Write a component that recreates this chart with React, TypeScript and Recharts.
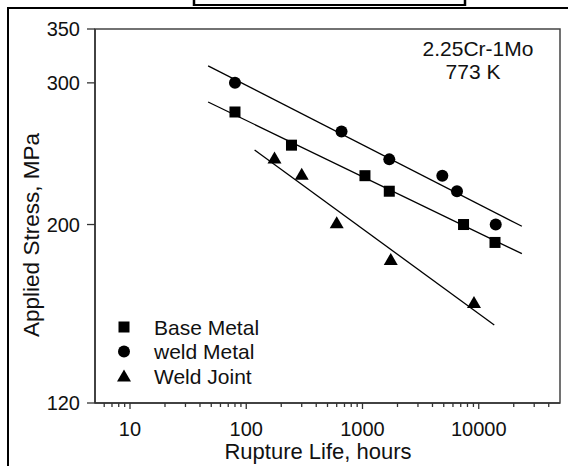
import React from 'react';
import { ScatterChart, Scatter, XAxis, YAxis, ReferenceArea, Legend, Label } from 'recharts';

const FONT = '"Liberation Sans", Arial, Helvetica, sans-serif';

// ---- Data ----
const baseMetalHours = [80, 245, 1050, 1700, 7400, 13800];
const baseMetalStress = [276, 251, 230, 220, 200, 190];

const weldMetalHours = [80, 660, 1700, 4860, 6500, 14000];
const weldMetalStress = [300, 261, 241, 230, 220, 200];

const weldJointHours = [175, 300, 600, 1750, 9100];
const weldJointStress = [242, 231, 201, 181, 160];

// fitted lines (end points)
const baseFitHours = [47, 23500];
const baseFitStress = [284, 184];
const weldFitHours = [47, 23500];
const weldFitStress = [315, 199];
const jointFitHours = [118, 13600];
const jointFitStress = [247.6, 150];

const xMajorTicks = [10, 100, 1000, 10000];
const xMinorTicks = [
  6, 7, 8, 9,
  20, 30, 40, 50, 60, 70, 80, 90,
  200, 300, 400, 500, 600, 700, 800, 900,
  2000, 3000, 4000, 5000, 6000, 7000, 8000, 9000,
  20000, 30000, 40000,
];
const xTicks = [...xMajorTicks, ...xMinorTicks].sort((a, b) => a - b);
const yTicks = [120, 200, 300, 350];

const seriesNames = ['Base Metal', 'weld Metal', 'Weld Joint'];
const annotationLines = ['2.25Cr-1Mo', '773 K'];

const toPoints = (xs: number[], ys: number[]) => xs.map((x, i) => ({ x, y: ys[i] }));

const baseData = toPoints(baseMetalHours, baseMetalStress);
const weldData = toPoints(weldMetalHours, weldMetalStress);
const jointData = toPoints(weldJointHours, weldJointStress);
const baseFit = toPoints(baseFitHours, baseFitStress);
const weldFit = toPoints(weldFitHours, weldFitStress);
const jointFit = toPoints(jointFitHours, jointFitStress);

// ---- Markers ----
const SquareMark = ({ cx, cy }: any) => (
  <rect x={cx - 5.5} y={cy - 5.5} width={11} height={11} fill="#000" />
);
const CircleMark = ({ cx, cy }: any) => <circle cx={cx} cy={cy} r={6} fill="#000" />;
const TriangleMark = ({ cx, cy }: any) => (
  <polygon points={`${cx},${cy - 6.5} ${cx + 7},${cy + 5.5} ${cx - 7},${cy + 5.5}`} fill="#000" />
);
const NoMark = () => <g />;

const markerFor: Record<string, any> = {
  'Base Metal': SquareMark,
  'weld Metal': CircleMark,
  'Weld Joint': TriangleMark,
};

// ---- Ticks ----
const XTick = (props: any) => {
  const { x, y, payload } = props;
  const major = xMajorTicks.includes(payload.value);
  return (
    <g>
      <line x1={x} x2={x} y1={y} y2={y + (major ? 6 : 4)} stroke="#333" strokeWidth={1.3} />
      {major && (
        <text x={x} y={y + 33} textAnchor="middle" fontSize={20} fill="#111" fontFamily={FONT}>
          {payload.value}
        </text>
      )}
    </g>
  );
};

const YTick = (props: any) => {
  const { x, y, payload } = props;
  return (
    <g>
      <line x1={x - 8} x2={x} y1={y} y2={y} stroke="#333" strokeWidth={1.3} />
      <text x={x - 15} y={y + 7} textAnchor="end" fontSize={20} fill="#111" fontFamily={FONT}>
        {payload.value}
      </text>
    </g>
  );
};

const renderLegend = () => (
  <svg width={200} height={80}>
    {seriesNames.map((name, i) => {
      const M = markerFor[name];
      const cy = 13 + i * 24.5;
      return (
        <g key={name}>
          <M cx={14} cy={cy} />
          <text x={44} y={cy} dominantBaseline="central" fontSize={21} fill="#111" fontFamily={FONT}>
            {name}
          </text>
        </g>
      );
    })}
  </svg>
);

export default function App() {
  return (
    <div style={{ position: 'absolute', left: 0, top: 0, width: 568, height: 466, background: '#fff', overflow: 'hidden' }}>
      <ScatterChart width={568} height={466} margin={{ top: 29, right: 8, left: 35, bottom: 23 }}>
        <XAxis
          dataKey="x"
          type="number"
          scale="log"
          domain={[5, 50000]}
          allowDataOverflow
          ticks={xTicks}
          interval={0}
          tick={<XTick />}
          tickLine={false}
          tickSize={0}
          tickMargin={0}
          height={40}
          axisLine={{ stroke: '#333', strokeWidth: 1.5 }}
        >
          <Label
            content={() => (
              <text x={318} y={459} textAnchor="middle" fontSize={22} fill="#111" fontFamily={FONT}>
                Rupture Life, hours
              </text>
            )}
          />
        </XAxis>
        <YAxis
          dataKey="y"
          type="number"
          scale="log"
          domain={[120, 350]}
          allowDataOverflow
          ticks={yTicks}
          interval={0}
          tick={<YTick />}
          tickLine={false}
          tickSize={0}
          tickMargin={0}
          width={60}
          axisLine={{ stroke: '#333', strokeWidth: 1.5 }}
        >
          <Label
            content={() => (
              <text
                x={31}
                y={235}
                textAnchor="middle"
                dominantBaseline="central"
                transform="rotate(-90, 31, 235)"
                fontSize={22.5}
                fill="#111"
                fontFamily={FONT}
              >
                Applied Stress, MPa
              </text>
            )}
          />
        </YAxis>
        <ReferenceArea
          x1={5}
          x2={50000}
          y1={120}
          y2={350}
          fill="none"
          fillOpacity={0}
          stroke="#444"
          strokeWidth={1.5}
          ifOverflow="visible"
        />
        <Scatter name="fit-base" data={baseFit} line={{ stroke: '#000', strokeWidth: 1.3 }} shape={<NoMark />} legendType="none" isAnimationActive={false} />
        <Scatter name="fit-weld" data={weldFit} line={{ stroke: '#000', strokeWidth: 1.3 }} shape={<NoMark />} legendType="none" isAnimationActive={false} />
        <Scatter name="fit-joint" data={jointFit} line={{ stroke: '#000', strokeWidth: 1.3 }} shape={<NoMark />} legendType="none" isAnimationActive={false} />
        <Scatter name={seriesNames[0]} data={baseData} shape={<SquareMark />} isAnimationActive={false} />
        <Scatter name={seriesNames[1]} data={weldData} shape={<CircleMark />} isAnimationActive={false} />
        <Scatter name={seriesNames[2]} data={jointData} shape={<TriangleMark />} isAnimationActive={false} />
        <Legend
          layout="vertical"
          align="center"
          verticalAlign="middle"
          content={renderLegend}
          wrapperStyle={{ position: 'absolute', left: 110, top: 314, width: 200, height: 80 }}
        />
      </ScatterChart>
      <svg
        width={568}
        height={466}
        style={{ position: 'absolute', left: 0, top: 0, pointerEvents: 'none' }}
      >
        <line x1={8} y1={8} x2={568} y2={8} stroke="#000" strokeWidth={2} />
        <line x1={8} y1={7} x2={8} y2={466} stroke="#000" strokeWidth={2} />
        <line x1={194} y1={5} x2={465} y2={5} stroke="#000" strokeWidth={2} />
        <line x1={194} y1={0} x2={194} y2={6} stroke="#000" strokeWidth={2.5} />
        <line x1={465} y1={0} x2={465} y2={6} stroke="#000" strokeWidth={2.5} />
        {annotationLines.map((t, i) => (
          <text key={t} x={i === 0 ? 478 : 473} y={56 + i * 23} textAnchor="middle" fontSize={21} fill="#111" fontFamily={FONT}>
            {t}
          </text>
        ))}
      </svg>
    </div>
  );
}
